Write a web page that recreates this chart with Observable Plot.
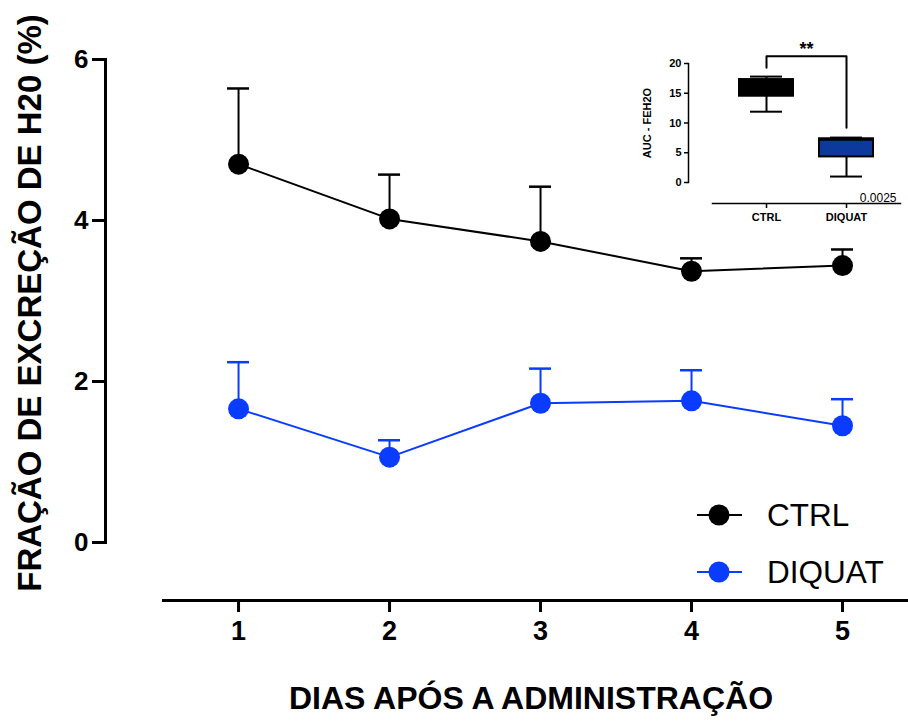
<!DOCTYPE html>
<html><head><meta charset="utf-8">
<script src="https://cdn.jsdelivr.net/npm/d3@7"></script>
<script src="https://cdn.jsdelivr.net/npm/@observablehq/plot@0.6"></script>
<style>
body{margin:0;background:#fff;}
#wrap{position:relative;width:908px;height:722px;font-family:"Liberation Sans",Arial,sans-serif;}
#wrap svg{position:absolute;left:0;top:0;}
</style></head><body><div id="wrap"></div>
<script>
// ---- main chart data ----
const days = [1, 2, 3, 4, 5];
const seriesNames = ["CTRL", "DIQUAT"];
const seriesColors = ["#000000", "#0a3cff"];
const ctrlMean = [4.70, 4.02, 3.74, 3.37, 3.44];
const ctrlErr  = [0.94, 0.55, 0.68, 0.16, 0.20];
const diqMean  = [1.66, 1.06, 1.73, 1.76, 1.45];
const diqErr   = [0.58, 0.21, 0.43, 0.38, 0.33];
const yTicks = [0, 2, 4, 6];
const xDomain = [0.503, 5.437];
const yDomain = [0, 6];
const yTitle = "FRAÇÃO DE EXCREÇÃO DE H20 (%)";
const xTitle = "DIAS APÓS A ADMINISTRAÇÃO";

// ---- inset data ----
const groups = ["CTRL", "DIQUAT"];
const groupFills = ["#000000", "#0b3a9c"];
const aucMin    = [11.9, 1.0];
const aucQ1     = [14.5, 4.3];
const aucMedian = [15.8, 7.2];
const aucQ3     = [17.3, 7.35];
const aucMax    = [17.8, 7.55];
const aucTicks = [0, 5, 10, 15, 20];
const aucTitle = "AUC - FEH2O";
const bracketBase = [19.3, 9.2];
const bracketTop = 21.2;
const sigLabel = "**";
const pValue = "0.0025";

const rows = [];
days.forEach((d, i) => {
  rows.push({series: "CTRL", day: d, mean: ctrlMean[i], upper: ctrlMean[i] + ctrlErr[i]});
  rows.push({series: "DIQUAT", day: d, mean: diqMean[i], upper: diqMean[i] + diqErr[i]});
});

const font = "'Liberation Sans', Arial, sans-serif";
const intFmt = d3.format("d");

const main = Plot.plot({
  width: 908, height: 722,
  marginLeft: 163, marginRight: 0, marginTop: 59, marginBottom: 122,
  x: {domain: xDomain},
  y: {domain: yDomain, range: [542, 59]},
  color: {domain: seriesNames, range: seriesColors},
  style: {fontFamily: font, background: "transparent", overflow: "visible", color: "black"},
  marks: [
    Plot.frame({anchor: "bottom", strokeWidth: 3, stroke: "black"}),
    Plot.frame({anchor: "left", dx: -58, insetBottom: 58, strokeWidth: 3, stroke: "black"}),
    Plot.axisY({ticks: yTicks, tickFormat: intFmt, dx: -58, tickSize: 13, tickPadding: 4, strokeWidth: 3, fontSize: 26, fontWeight: "bold", label: null}),
    Plot.axisX({ticks: days, tickFormat: intFmt, tickSize: 12, tickPadding: 8, strokeWidth: 3, fontSize: 27, fontWeight: "bold", label: null}),
    Plot.line(rows, {x: "day", y: "mean", z: "series", stroke: "series", strokeWidth: 2}),
    Plot.ruleX(rows, {x: "day", y1: "mean", y2: "upper", stroke: "series", strokeWidth: 2}),
    Plot.ruleY(rows, {y: "upper", x1: "day", x2: "day", insetLeft: -11, insetRight: -11, stroke: "series", strokeWidth: 2.5}),
    Plot.dot(rows, {x: "day", y: "mean", fill: "series", r: 10.5}),
    Plot.text([yTitle], {text: d => d, frameAnchor: "left", textAnchor: "middle", rotate: -90, dx: -133, dy: -27, fontSize: 33, fontWeight: "bold"}),
    Plot.text([xTitle], {text: d => d, frameAnchor: "bottom", textAnchor: "middle", dx: -5, dy: 108, fontSize: 32, fontWeight: "bold"})
  ]
});
document.getElementById("wrap").appendChild(main);

// legend
const leg = d3.select("#wrap").append("svg").attr("width", 908).attr("height", 722).style("pointer-events", "none");
seriesNames.forEach((s, i) => {
  const cy = 515 + i * 57;
  const g = leg.append("g");
  g.append("line").attr("x1", 697).attr("x2", 742).attr("y1", cy).attr("y2", cy).attr("stroke", seriesColors[i]).attr("stroke-width", 2);
  g.append("circle").attr("cx", 719).attr("cy", cy).attr("r", 10.5).attr("fill", seriesColors[i]);
  g.append("text").attr("x", 767).attr("y", cy).attr("dy", "0.35em").attr("font-family", font).attr("font-size", 31.5).attr("fill", "black").text(s);
});

// inset
const stats = groups.map((g, i) => ({group: g, min: aucMin[i], q1: aucQ1[i], median: aucMedian[i], q3: aucQ3[i], max: aucMax[i]}));
const bracket = [
  {group: groups[0], v: bracketBase[0]},
  {group: groups[0], v: bracketTop},
  {group: groups[1], v: bracketTop},
  {group: groups[1], v: bracketBase[1]}
];
const inset = Plot.plot({
  width: 288, height: 200,
  marginLeft: 92, marginRight: 8, marginTop: 20, marginBottom: 27,
  x: {type: "band", domain: groups, range: [119, 253], paddingInner: 0.325, paddingOuter: 0},
  y: {domain: [0, 20], range: [152, 33]},
  color: {domain: groups, range: groupFills},
  style: {fontFamily: font, background: "transparent", overflow: "visible", color: "black"},
  marks: [
    Plot.frame({anchor: "bottom", strokeWidth: 1.5, stroke: "black"}),
    Plot.frame({anchor: "left", dx: -24, insetTop: 13, insetBottom: 21, strokeWidth: 1.5, stroke: "black"}),
    Plot.axisY({ticks: aucTicks, dx: -24, tickSize: 4, tickPadding: 3, strokeWidth: 1.5, fontSize: 11, fontWeight: "bold", label: null}),
    Plot.axisX({tickSize: 5, tickPadding: 5, strokeWidth: 1.5, fontSize: 11, fontWeight: "bold", label: null}),
    Plot.ruleX(stats, {x: "group", y1: "min", y2: "max", strokeWidth: 2}),
    Plot.tickY(stats, {x: "group", y: "min", insetLeft: 11, insetRight: 11, strokeWidth: 2}),
    Plot.tickY(stats, {x: "group", y: "max", insetLeft: 11, insetRight: 11, strokeWidth: 2}),
    Plot.barY(stats, {x: "group", y1: "q1", y2: "q3", fill: "group", stroke: "black", strokeWidth: 2}),
    Plot.tickY(stats, {x: "group", y: "median", strokeWidth: 2}),
    Plot.line(bracket, {x: "group", y: "v", strokeWidth: 2}),
    Plot.text([sigLabel], {text: d => d, frameAnchor: "top", textAnchor: "middle", dy: -8, fontSize: 18, fontWeight: "bold"}),
    Plot.text([pValue], {text: d => d, frameAnchor: "bottom-right", textAnchor: "end", lineAnchor: "bottom", dx: -4, dy: -2, fontSize: 12}),
    Plot.text([aucTitle], {text: d => d, frameAnchor: "left", textAnchor: "middle", rotate: -90, dx: -65, dy: -4, fontSize: 11, fontWeight: "bold"})
  ]
});
inset.style.left = "620px";
inset.style.top = "30px";
document.getElementById("wrap").appendChild(inset);
</script></body></html>
